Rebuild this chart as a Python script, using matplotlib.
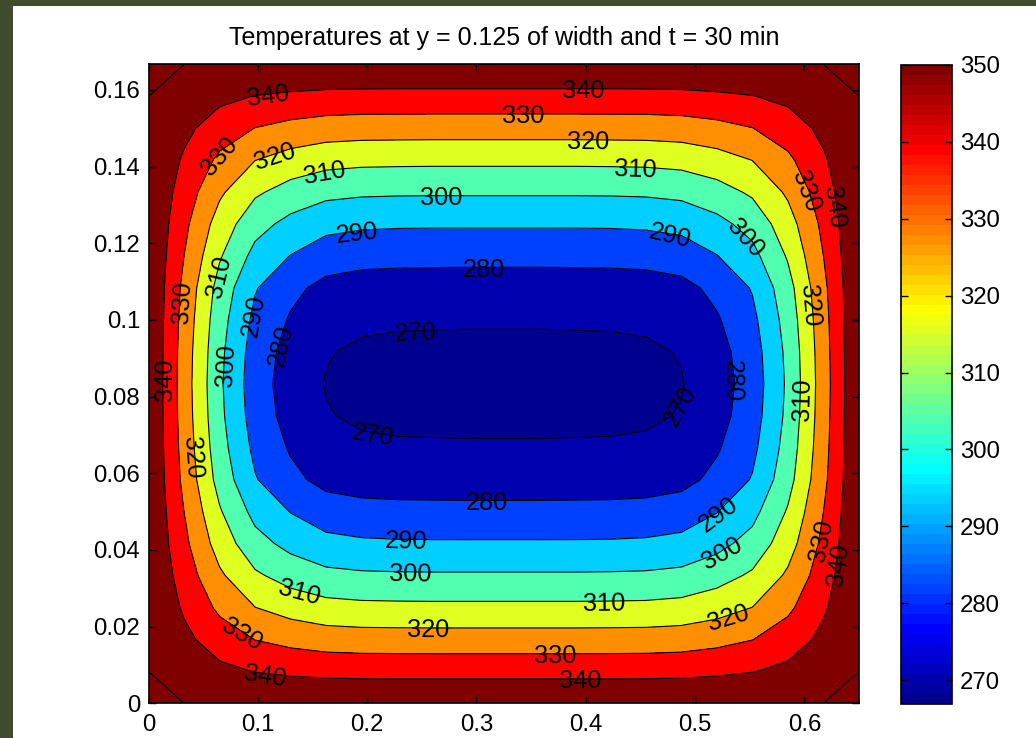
import numpy as np
import matplotlib
matplotlib.use("Agg")
import matplotlib.pyplot as plt
from matplotlib.colors import ListedColormap, Normalize
from matplotlib.cm import ScalarMappable
from matplotlib.patches import Rectangle

plt.rcParams['font.family'] = ['Liberation Sans', 'DejaVu Sans']

# ---------------- data ----------------
title_text = "Temperatures at y = 0.125 of width and t = 30 min"
domain_width = 0.65
domain_height = 1 / 6

# Temperature grid (one quarter of the symmetric slab):
# rows = bottom edge -> mid-height, columns = left edge -> mid-width
quarter_temps = [
    [350.0, 350.0, 350.0, 350.0, 350.0, 350.0, 350.0, 350.0, 350.0, 350.0, 350.0],
    [350.0, 346.1, 342.4, 339.7, 338.3, 337.3, 337.0, 336.9, 336.9, 336.9, 336.9],
    [350.0, 342.4, 335.1, 329.8, 327.0, 325.2, 324.6, 324.5, 324.4, 324.4, 324.4],
    [350.0, 338.7, 328.0, 320.1, 316.0, 313.3, 312.4, 312.2, 312.1, 312.1, 312.1],
    [350.0, 335.4, 321.6, 311.5, 306.1, 302.6, 301.5, 301.2, 301.1, 301.1, 301.1],
    [350.0, 332.4, 315.7, 303.5, 297.1, 292.8, 291.5, 291.1, 291.0, 291.0, 291.0],
    [350.0, 330.0, 311.0, 297.0, 289.7, 284.9, 283.4, 283.0, 282.9, 282.8, 282.8],
    [350.0, 327.6, 306.3, 290.7, 282.5, 277.1, 275.5, 275.0, 274.9, 274.8, 274.8],
    [350.0, 326.4, 304.0, 287.6, 279.0, 273.3, 271.5, 271.0, 270.9, 270.8, 270.8],
    [350.0, 325.6, 302.4, 285.4, 276.4, 270.5, 268.7, 268.2, 268.1, 268.0, 268.0],
    [350.0, 325.2, 301.7, 284.5, 275.5, 269.5, 267.6, 267.1, 267.0, 266.9, 266.9],
]

contour_levels = [270, 280, 290, 300, 310, 320, 330, 340, 350]

x_ticks = [0, 0.1, 0.2, 0.3, 0.4, 0.5, 0.6]
x_tick_labels = ["0", "0.1", "0.2", "0.3", "0.4", "0.5", "0.6"]
y_ticks = [0, 0.02, 0.04, 0.06, 0.08, 0.1, 0.12, 0.14, 0.16]
y_tick_labels = ["0", "0.02", "0.04", "0.06", "0.08", "0.1", "0.12", "0.14", "0.16"]
cbar_ticks = [270, 280, 290, 300, 310, 320, 330, 340, 350]

# ---------------- layout / style ----------------
label_positions = [
    (0.1093, 0.1590), (0.3975, 0.1600), (0.3426, 0.1535), (0.4021, 0.1464),
    (0.4451, 0.1397), (0.2676, 0.1321), (0.1907, 0.1227), (0.4771, 0.1222),
    (0.3069, 0.1135), (0.2438, 0.0974), (0.1615, 0.1386), (0.1157, 0.1430),
    (0.0636, 0.1430), (0.5457, 0.1209), (0.6052, 0.1339), (0.6308, 0.1295),
    (0.0590, 0.1117), (0.0261, 0.1047), (0.0929, 0.1013), (0.1130, 0.0940),
    (0.0672, 0.0883), (0.0133, 0.0843), (0.0380, 0.0640), (0.2054, 0.0700),
    (0.6098, 0.1039), (0.5393, 0.0843), (0.6006, 0.0791), (0.4844, 0.0778),
    (0.3097, 0.0525), (0.2356, 0.0423), (0.5210, 0.0491), (0.2392, 0.0340),
    (0.5247, 0.0392), (0.1386, 0.0296), (0.4167, 0.0262), (0.2557, 0.0191),
    (0.5301, 0.0223), (0.0865, 0.0183), (0.3719, 0.0126), (0.1066, 0.0074),
    (0.3947, 0.0061), (0.6143, 0.0426), (0.6326, 0.0361),
]
FS = 17.3
FS_TITLE = 18.0
FS_CLABEL = 18.3


def matlab_jet(m=64):
    n = int(np.ceil(m / 4))
    u = np.concatenate([np.arange(1, n + 1) / n, np.ones(n - 1), np.arange(n, 0, -1) / n])
    g = int(np.ceil(n / 2)) - (1 if m % 4 == 1 else 0) + np.arange(1, len(u) + 1)
    J = np.zeros((m, 3))
    for idx, col in ((g + n, 0), (g, 1), (g - n, 2)):
        mask = (idx >= 1) & (idx <= m)
        J[idx[mask] - 1, col] = u[mask]
    return J


jet = matlab_jet(64)

# ---------------- build field ----------------
q = np.array(quarter_temps)
half = np.vstack([q, q[-2::-1]])
T = np.hstack([half, half[:, -2::-1]])
ny, nx = T.shape
xg = np.linspace(0, domain_width, nx)
yg = np.linspace(0, domain_height, ny)
X, Y = np.meshgrid(xg, yg)
zmin, zmax = T.min(), T.max()

fill_levels = [zmin] + contour_levels
lower = np.array([zmin] + contour_levels[:-1])
frac = (lower - zmin) / (lower[-1] - zmin)
band_idx = np.minimum((frac * 64).astype(int), 63)
band_colors = [tuple(jet[k]) for k in band_idx]

# ---------------- figure ----------------
fig = plt.figure(figsize=(10.36, 7.38), dpi=100, facecolor='white')
fig.patches.append(Rectangle((0, 0), 12.5 / 1036, 1, transform=fig.transFigure,
                             facecolor='#404a2c', edgecolor='none', zorder=-10))
fig.patches.append(Rectangle((0, 1 - 5.7 / 738), 1, 5.7 / 738, transform=fig.transFigure,
                             facecolor='#404a2c', edgecolor='none', zorder=-10))

ax = fig.add_axes([148.5 / 1036, (738 - 703.3) / 738, 710.5 / 1036, 638.9 / 738])
ax.contourf(X, Y, T, levels=fill_levels, colors=band_colors)
line_levels = contour_levels[:-1] + [contour_levels[-1] - 0.001]
cs = ax.contour(X, Y, T, levels=line_levels, colors='k', linewidths=0.8)
ax.clabel(cs, levels=contour_levels[:-1], manual=label_positions, inline=False,
          fmt='%d', fontsize=FS_CLABEL, colors='k')
for t in cs.labelTexts:
    t.set_rotation_mode('anchor')
    t.set_verticalalignment('center_baseline')

ax.set_xlim(0, domain_width)
ax.set_ylim(0, domain_height)
ax.set_xticks(x_ticks)
ax.set_xticklabels(x_tick_labels)
ax.set_yticks(y_ticks)
ax.set_yticklabels(y_tick_labels)
ax.tick_params(direction='in', length=5, width=1, top=True, right=True,
               labelsize=FS, colors='k')
ax.tick_params(axis='x', pad=7.5)
ax.tick_params(axis='y', pad=6)
for s in ax.spines.values():
    s.set_linewidth(1.2)
ax.set_title(title_text, fontsize=FS_TITLE, pad=14)

cax = fig.add_axes([901 / 1036, (738 - 704) / 738, 50.5 / 1036, 639 / 738])
sm = ScalarMappable(norm=Normalize(zmin, zmax), cmap=ListedColormap(jet))
cb = fig.colorbar(sm, cax=cax, ticks=cbar_ticks)
cb.outline.set_linewidth(1.2)
cax.yaxis.set_ticks_position('both')
cax.tick_params(direction='in', length=5, width=1, left=True, right=True,
                labelleft=False, labelright=True, labelsize=FS, pad=6)

fig.savefig('out.png', dpi=100, facecolor='white')
